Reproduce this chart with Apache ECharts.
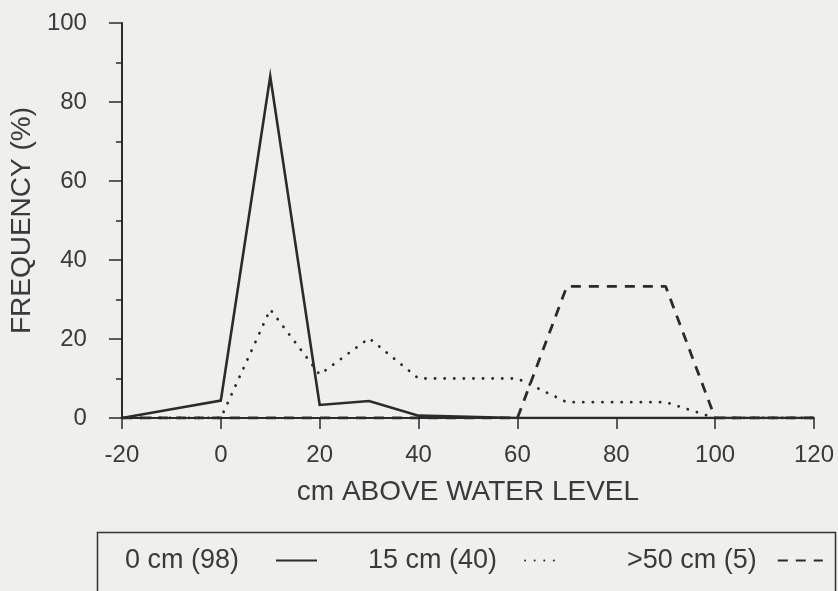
<!DOCTYPE html>
<html>
<head>
<meta charset="utf-8">
<script src="https://cdn.jsdelivr.net/npm/echarts@6/dist/echarts.min.js"></script>
<style>
html,body{margin:0;padding:0;background:#efefed;}
#chart{width:838px;height:591px;}
</style>
</head>
<body>
<div id="chart"></div>
<script>
const xValues = [-20, -10, 0, 10, 20, 30, 40, 50, 60, 70, 80, 90, 100, 110, 120];
const seriesNames = ['0 cm (98)', '15 cm (40)', '>50 cm (5)'];
const cm0  = [0, 2.2, 4.4, 86.5, 3.3, 4.3, 0.6, 0.3, 0, 0, 0, 0, 0, 0, 0];
const cm15 = [0, 0, 0, 27.5, 11, 20.2, 10, 10, 10, 4, 4, 4, 0, 0, 0];
const cm50 = [0, 0, 0, 0, 0, 0, 0, 0, 0, 33.3, 33.3, 33.3, 0, 0, 0];
const xTicks = [-20, 0, 20, 40, 60, 80, 100, 120];
const yTicks = [0, 20, 40, 60, 80, 100];

function pairs(vals){ return xValues.map((x,i)=>[x, vals[i]]); }

const ink = '#2b2b2b';
const txt = '#3a3a3a';
const font = 'Liberation Sans, Arial, Helvetica, sans-serif';

function legendFor(i, left, iconW, gap){
  return {
    left: left, top: 542, align: 'right', orient: 'horizontal',
    itemWidth: iconW, itemHeight: 26,
    itemStyle: {color: 'rgba(0,0,0,0)', borderWidth: 0},
    textStyle: {fontFamily: font, fontSize: 27, color: txt, padding: [0, gap, 0, 0]},
    data: [seriesNames[i]]
  };
}

const chart = echarts.init(document.getElementById('chart'));
chart.setOption({
  backgroundColor: '#efefed',
  animation: false,
  grid: {left: 121, right: 24, top: 23, bottom: 173},
  xAxis: {
    type: 'value', min: xTicks[0], max: xTicks[xTicks.length-1], interval: 20,
    name: 'cm ABOVE WATER LEVEL', nameLocation: 'middle', nameGap: 60,
    nameTextStyle: {fontFamily: font, fontSize: 28, color: txt},
    axisLine: {onZero: false, lineStyle: {color: ink, width: 2}},
    axisTick: {show: true, length: 11, lineStyle: {color: ink, width: 1.5}},
    axisLabel: {fontFamily: font, fontSize: 24, color: txt, margin: 25},
    splitLine: {show: false}
  },
  yAxis: {
    type: 'value', min: yTicks[0], max: yTicks[yTicks.length-1], interval: 20,
    name: 'FREQUENCY (%)', nameLocation: 'middle', nameGap: 82, nameRotate: 90,
    nameTextStyle: {fontFamily: font, fontSize: 28, color: txt},
    axisLine: {show: true, onZero: false, lineStyle: {color: ink, width: 2}},
    axisTick: {show: true, length: 13, lineStyle: {color: ink, width: 1.5}},
    minorTick: {show: true, splitNumber: 2, length: 6, lineStyle: {color: ink, width: 1.5}},
    axisLabel: {fontFamily: font, fontSize: 24, color: txt, margin: 35},
    splitLine: {show: false}
  },
  legend: [
    legendFor(0, 120, 41, 32),
    legendFor(1, 363, 34, 23),
    legendFor(2, 622, 45, 16)
  ],
  graphic: [{
    type: 'rect', left: 95, top: 530, silent: true,
    shape: {width: 738, height: 100},
    style: {fill: 'none', stroke: '#333', lineWidth: 1.5}
  }],
  series: [
    {name: seriesNames[0], type: 'line', data: pairs(cm0), showSymbol: false, symbol: 'none', z: 3,
     lineStyle: {color: ink, width: 2.6, type: 'solid', join: 'miter'}, itemStyle: {color: ink}},
    {name: seriesNames[1], type: 'line', data: pairs(cm15), showSymbol: false, symbol: 'none', z: 2,
     lineStyle: {color: ink, width: 2.8, type: [0.1, 9.5], cap: 'round'}, itemStyle: {color: ink}},
    {name: seriesNames[2], type: 'line', data: pairs(cm50), showSymbol: false, symbol: 'none', z: 2,
     lineStyle: {color: ink, width: 2.8, type: [10, 8]}, itemStyle: {color: ink}}
  ]
});
</script>
</body>
</html>
